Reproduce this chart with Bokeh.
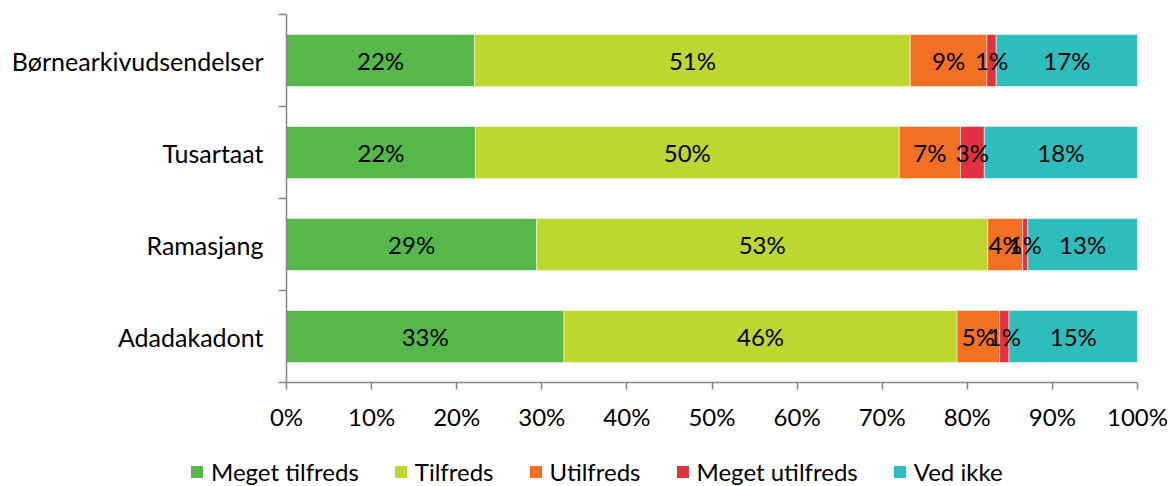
import numpy as np
from bokeh.plotting import figure
from bokeh.layouts import column
from bokeh.models import ColumnDataSource, FixedTicker, Legend, LegendItem, Range1d
from bokeh.core.properties import value
from bokeh.embed import file_html
from bokeh.resources import INLINE

categories = ["Børnearkivudsendelser", "Tusartaat", "Ramasjang", "Adadakadont"]
series = ["Meget tilfreds", "Tilfreds", "Utilfreds", "Meget utilfreds", "Ved ikke"]
meget_tilfreds = [22.1, 22.2, 29.4, 32.6]
tilfreds = [51.2, 49.8, 53.0, 46.2]
utilfreds = [9.0, 7.2, 4.1, 5.0]
meget_utilfreds = [1.1, 2.8, 0.6, 1.1]
ved_ikke = [16.6, 18.0, 12.9, 15.1]
colors = ["#55B849", "#BED630", "#F37022", "#E3323F", "#2DBDBD"]
x_ticks = [0, 10, 20, 30, 40, 50, 60, 70, 80, 90, 100]

FONT = "Lato"
FS = "24px"
AXIS_COLOR = "#868686"

values = [meget_tilfreds, tilfreds, utilfreds, meget_utilfreds, ved_ikke]
n = len(categories)
ypos = [n - i - 0.5 for i in range(n)]

p = figure(width=1174, height=440, output_backend="svg", toolbar_location=None,
           x_range=Range1d(0, 100), y_range=Range1d(0, n),
           min_border_left=286, min_border_right=37, min_border_top=14, min_border_bottom=58)
p.frame_align = False
p.outline_line_color = None
p.xgrid.visible = False
p.ygrid.visible = False

left = np.zeros(n)
lx, ly, lt = [], [], []
for s, vals, c in zip(series, values, colors):
    v = np.array(vals, dtype=float)
    src = ColumnDataSource(dict(y=ypos, left=left.copy(), right=left + v))
    p.hbar(y="y", left="left", right="right", height=0.565, source=src,
           fill_color=c, line_color="white", line_alpha=0.5, line_width=1)
    for yy, l0, vv in zip(ypos, left, v):
        lx.append(l0 + vv / 2)
        ly.append(yy)
        lt.append(f"{round(vv)}%")
    left = left + v

p.text(x=lx, y=ly, text=lt, text_align="center", text_baseline="middle",
       text_font=value(FONT), text_font_size=FS, text_color="#000000")

# x axis
xa = p.xaxis[0]
xa.ticker = FixedTicker(ticks=x_ticks)
xa.major_label_overrides = {t: f"{t}%" for t in x_ticks}
xa.axis_line_color = AXIS_COLOR
xa.axis_line_width = 1.5
xa.major_tick_line_color = AXIS_COLOR
xa.major_tick_line_width = 1.5
xa.major_tick_out = 7
xa.major_tick_in = 0
xa.minor_tick_line_color = None
xa.major_label_standoff = 12
xa.major_label_text_font = FONT
xa.major_label_text_font_size = FS
xa.major_label_text_color = "#000000"

# y axis
ya = p.yaxis[0]
ya.ticker = FixedTicker(ticks=ypos, minor_ticks=list(range(n + 1)))
ya.major_label_overrides = {yy: cat for yy, cat in zip(ypos, categories)}
ya.axis_line_color = AXIS_COLOR
ya.axis_line_width = 1.5
ya.major_tick_line_color = None
ya.major_tick_out = 0
ya.major_tick_in = 0
ya.minor_tick_line_color = AXIS_COLOR
ya.minor_tick_line_width = 1.5
ya.minor_tick_out = 8
ya.minor_tick_in = 0
ya.major_label_standoff = 15
ya.major_label_text_font = FONT
ya.major_label_text_font_size = "25px"
ya.major_label_text_color = "#000000"

# legend strip below the chart
pl = figure(width=1174, height=46, output_backend="svg", toolbar_location=None,
            x_range=Range1d(0, 1), y_range=Range1d(0, 1),
            x_axis_type=None, y_axis_type=None,
            min_border_left=0, min_border_right=0, min_border_top=0, min_border_bottom=0)
pl.frame_align = False
pl.outline_line_color = None
pl.xgrid.visible = False
pl.ygrid.visible = False
items = []
for s, c in zip(series, colors):
    r = pl.hbar(y=[0.5], left=[0], right=[0], height=0.5, fill_color=c, line_color=None)
    items.append(LegendItem(label=s, renderers=[r]))
legend = Legend(items=items, orientation="horizontal", location=(189, 0),
                glyph_width=15, glyph_height=15, label_standoff=7, spacing=34,
                padding=0, margin=0, border_line_color=None, background_fill_alpha=0,
                label_text_font=FONT, label_text_font_size=FS, label_text_color="#000000")
pl.add_layout(legend, "center")

layout = column(p, pl, spacing=0)
open("out.html", "w").write(file_html(layout, INLINE))
